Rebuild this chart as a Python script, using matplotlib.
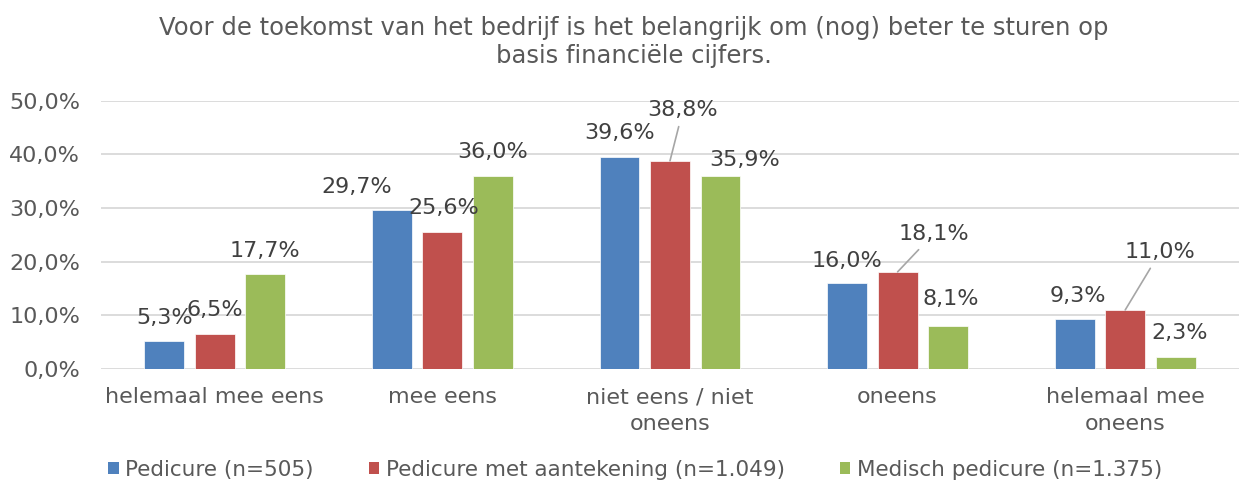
import matplotlib
matplotlib.use("Agg")
import matplotlib.pyplot as plt
import numpy as np
from matplotlib.patches import Patch

categories = ["helemaal mee eens", "mee eens", "niet eens / niet\noneens", "oneens", "helemaal mee\noneens"]
series_names = ["Pedicure (n=505)", "Pedicure met aantekening (n=1.049)", "Medisch pedicure (n=1.375)"]
pedicure = [5.3, 29.7, 39.6, 16.0, 9.3]
aantekening = [6.5, 25.6, 38.8, 18.1, 11.0]
medisch = [17.7, 36.0, 35.9, 8.1, 2.3]
yticks = [0, 10, 20, 30, 40, 50]
title = "Voor de toekomst van het bedrijf is het belangrijk om (nog) beter te sturen op\nbasis financiële cijfers."

colors = ["#4F81BD", "#C0504D", "#9BBB59"]
# label offsets in pixels (dx, dy) from bar top center
offsets = [
    [(0, 23), (-35, 23), (0, 24), (0, 22), (3, 23)],
    [(0, 24), (1, 24), (13, 51), (36, 38), (35, 58)],
    [(0, 23), (0, 24), (24, 16), (3, 27), (4, 24)],
]
leaders = [
    [False] * 5,
    [False, False, True, True, True],
    [False] * 5,
]

plt.rcParams['font.family'] = ['DejaVu Sans']
fig = plt.figure(figsize=(12.39, 4.86), dpi=100)
ax = fig.add_axes([101 / 1239, 1 - 369 / 486, 1 - 101 / 1239, (369 - 100.7) / 486])

x = np.arange(len(categories))
step = 0.222
width = 0.175
data = [pedicure, aantekening, medisch]
for s, vals in enumerate(data):
    xs = x + (s - 1) * step
    ax.bar(xs, vals, width=width, color=colors[s], zorder=3, edgecolor='white', linewidth=0.5)
    for i, v in enumerate(vals):
        dx, dy = offsets[s][i]
        lbl = f"{v:.1f}%".replace(".", ",")
        kw = dict(xy=(xs[i], v), xytext=(dx, dy), textcoords='offset pixels',
                  ha='center', va='center', fontsize=16, color='#404040', zorder=5)
        if leaders[s][i]:
            kw['arrowprops'] = dict(arrowstyle='-', color='#A6A6A6', lw=1.2,
                                    shrinkA=3, shrinkB=0)
        ax.annotate(lbl, **kw)

ax.set_xlim(-0.5, 4.5)
ax.set_ylim(0, 50)
ax.set_yticks(yticks)
ax.set_yticklabels([f"{t:.1f}%".replace(".", ",") for t in yticks])
ax.set_xticks(x)
ax.set_xticklabels(categories, linespacing=1.45)
ax.tick_params(axis='both', length=0, labelsize=16, colors='#595959')
ax.tick_params(axis='y', pad=15)
ax.tick_params(axis='x', pad=13)
ax.yaxis.grid(True, color='#D9D9D9', linewidth=1.3, zorder=0)
for sp in ax.spines.values():
    sp.set_visible(False)

fig.text(634 / 1239, 1 - 42 / 486, title, ha='center', va='center', fontsize=17.5,
         color='#595959', linespacing=1.25)

handles = [Patch(facecolor=c) for c in colors]
fig.legend(handles, series_names, loc='center', bbox_to_anchor=(635 / 1239, 1 - 470 / 486),
           ncol=3, frameon=False, fontsize=15.5, labelcolor='#595959',
           handlelength=0.5, handleheight=0.5, handletextpad=0.3, columnspacing=2.55)

fig.savefig("out.png", dpi=100)
